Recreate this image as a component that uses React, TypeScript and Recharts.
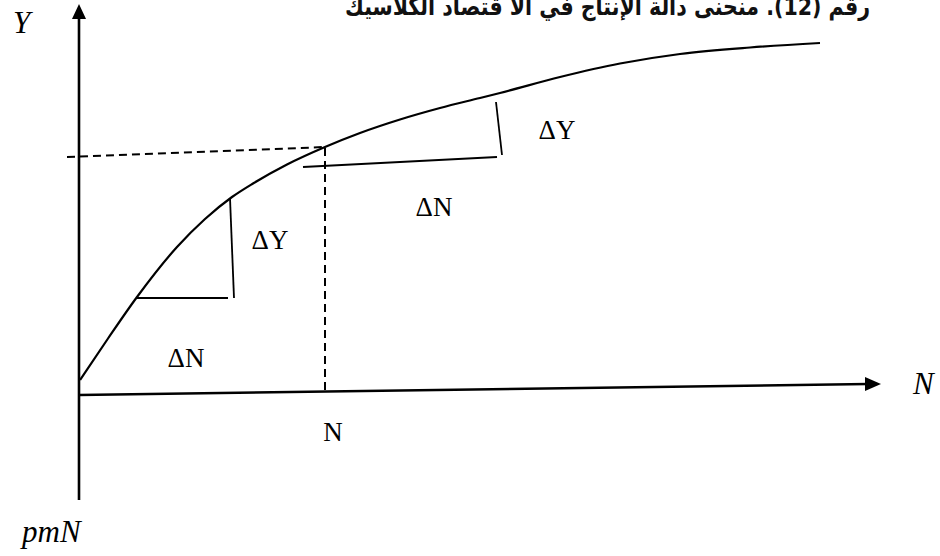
import React from "react";
import { ComposedChart, Line, Scatter, XAxis, YAxis } from "recharts";

// Units: N to the right, Y upward (origin where the axes cross)
const curveN = [0, 2.8, 5.7, 9.7, 12.5, 15.2, 17.3, 20.7, 24.5, 28.0, 32.0, 36.0, 40.0, 42.0, 48.0, 54.0, 60.0, 67.0, 74.0];
const curveY = [1.4, 5.55, 9.7, 14.7, 17.5, 19.7, 21.05, 22.95, 24.7, 26.1, 27.45, 28.6, 29.6, 30.1, 31.7, 33.05, 34.0, 34.65, 35.1];

const yAxisLine = [
  { x: -0.1, y: -10.6 },
  { x: -0.1, y: 37.6 },
];
const xAxisLine = [
  { x: -0.1, y: -0.1 },
  { x: 78.8, y: 1.0 },
];
const arrowTips = [
  { x: -0.1, y: 39.0, dir: "up" },
  { x: 80.1, y: 1.0, dir: "right" },
];

const dashH = [
  { x: -1.3, y: 23.7 },
  { x: 24.5, y: 24.7 },
];
const dashV = [
  { x: 24.5, y: 24.6 },
  { x: 24.5, y: 0.2 },
];

const tri1H = [
  { x: 5.6, y: 9.6 },
  { x: 14.8, y: 9.6 },
];
const tri1V = [
  { x: 15.0, y: 19.6 },
  { x: 15.4, y: 9.6 },
];
const tri2H = [
  { x: 22.3, y: 22.7 },
  { x: 41.7, y: 23.7 },
];
const tri2V = [
  { x: 41.6, y: 29.2 },
  { x: 42.2, y: 23.9 },
];

const labelTexts = ["ΔN", "ΔY", "ΔN", "ΔY", "N", "N", "Y", "pmN"];
const labelN = [10.6, 19.0, 35.4, 47.7, 25.3, 83.3, -6.7, -5.8];
const labelY = [2.7, 14.5, 17.8, 25.5, -4.7, 0.0, 36.1, -14.8];
const labelStyle = ["up", "up", "up", "up", "up", "it", "it", "it"];

const titleWords = ["رقم", "(12).", "منحنى", "دالة", "الإنتاج", "في", "الا", "قتصاد", "الكلاسيك"];
const titlePos = { x: 52.75, y: 37.9 };

const curve = curveN.map((n, i) => ({ x: n, y: curveY[i] }));
const labels = labelTexts.map((t, i) => ({
  x: labelN[i],
  y: labelY[i],
  text: t,
  style: labelStyle[i],
}));
const titleData = [{ ...titlePos, text: titleWords.join(" ") }];

const renderArrow = (props: any) => {
  const { cx, cy, payload } = props;
  if (payload.dir === "up") {
    return <polygon points={`${cx},${cy} ${cx - 7},${cy + 15} ${cx + 7},${cy + 15}`} fill="#000" />;
  }
  return <polygon points={`${cx},${cy} ${cx - 16},${cy - 7} ${cx - 16},${cy + 7}`} fill="#000" />;
};

const renderLabel = (props: any) => {
  const { cx, cy, payload } = props;
  const italic = payload.style === "it";
  return (
    <text
      x={cx}
      y={cy}
      textAnchor={italic ? "start" : "middle"}
      fontFamily="'Liberation Serif', 'DejaVu Serif', serif"
      fontStyle={italic ? "italic" : "normal"}
      fontSize={italic ? 31 : 27}
      fill="#000"
    >
      {payload.text}
    </text>
  );
};

const renderTitle = (props: any) => {
  const { cx, cy, payload } = props;
  return (
    <text
      x={cx}
      y={cy}
      textAnchor="middle"
      direction="rtl"
      fontFamily="'DejaVu Sans', sans-serif"
      fontWeight={700}
      fontSize={25}
      textLength={525}
      lengthAdjust="spacingAndGlyphs"
      fill="#111"
    >
      {payload.text}
    </text>
  );
};

const seg = (data: any[], key: string, dashed = false, w = 2) => (
  <Line
    key={key}
    data={data}
    dataKey="y"
    type="linear"
    stroke="#000"
    strokeWidth={w}
    strokeDasharray={dashed ? "8 5" : undefined}
    dot={false}
    activeDot={false}
    isAnimationActive={false}
  />
);

export default function App() {
  return (
    <div style={{ position: "absolute", left: 0, top: 0, background: "#fff" }}>
      <ComposedChart width={940} height={556} margin={{ top: 0, right: 0, bottom: 0, left: 0 }}>
        <XAxis type="number" dataKey="x" domain={[-8, 86]} hide allowDataOverflow />
        <YAxis type="number" dataKey="y" domain={[-16.2, 39.4]} hide allowDataOverflow />
        {seg(yAxisLine, "ya", false, 2.6)}
        {seg(xAxisLine, "xa", false, 2.4)}
        {seg(dashH, "dh", true, 2)}
        {seg(dashV, "dv", true, 2)}
        {seg(tri1H, "t1h", false, 1.8)}
        {seg(tri1V, "t1v", false, 1.8)}
        {seg(tri2H, "t2h", false, 1.8)}
        {seg(tri2V, "t2v", false, 1.8)}
        <Line
          data={curve}
          dataKey="y"
          type="monotone"
          stroke="#000"
          strokeWidth={2.2}
          dot={false}
          activeDot={false}
          isAnimationActive={false}
        />
        <Scatter data={arrowTips} dataKey="y" shape={renderArrow} isAnimationActive={false} />
        <Scatter data={labels} dataKey="y" shape={renderLabel} isAnimationActive={false} />
        <Scatter data={titleData} dataKey="y" shape={renderTitle} isAnimationActive={false} />
      </ComposedChart>
    </div>
  );
}
